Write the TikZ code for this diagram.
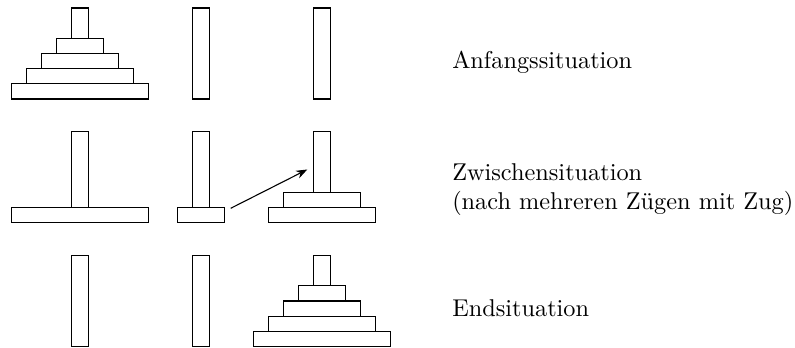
\documentclass[tikz,border=0pt]{standalone}
\usepackage{fontspec}
\usetikzlibrary{arrows.meta}

% a peg: centre x, base y (y grows downwards)
\newcommand\hanoipeg[2]{%
  \draw[part] ({#1-8.35},#2) rectangle ({#1+8.35},{#2-91});}
% a disk: centre x, base y, level (0 = lowest), size (1 = smallest)
\newcommand\hanoidisk[4]{%
  \draw[part] ({#1-8.35-15*#4},{#2-15.2*#3}) rectangle ({#1+8.35+15*#4},{#2-15.2*(#3+1)});}

\begin{document}
\begin{tikzpicture}[x=0.4115pt,y=-0.4115pt,line width=0.45pt,
  part/.style={draw=black,fill=white},
  caption/.style={anchor=base west,inner sep=0pt}]
\useasboundingbox (0,0) rectangle (795,347.4);

\def\pa{80}\def\pb{200.8}\def\pc{321.7}
\def\ra{99}\def\rb{222.7}\def\rc{346.6}

% start: all disks on the first peg
\foreach \p in {\pa,\pb,\pc} {\hanoipeg{\p}{\ra}}
\foreach \s [count=\l from 0] in {4,3,2,1} {\hanoidisk{\pa}{\ra}{\l}{\s}}

% some moves later
\foreach \p in {\pa,\pb,\pc} {\hanoipeg{\p}{\rb}}
\hanoidisk{\pa}{\rb}{0}{4}
\hanoidisk{\pb}{\rb}{0}{1}
\hanoidisk{\pc}{\rb}{0}{3}
\hanoidisk{\pc}{\rb}{1}{2}

% end: all disks on the third peg
\foreach \p in {\pa,\pb,\pc} {\hanoipeg{\p}{\rc}}
\foreach \s [count=\l from 0] in {4,3,2,1} {\hanoidisk{\pc}{\rc}{\l}{\s}}

% next move
\coordinate (mvfrom) at (230.7,208.3);
\coordinate (mvto) at (307.3,169.5);
\draw[-{Stealth[length=4.6pt,width=3.4pt]}] (mvfrom) -- (mvto);

% captions
\node[caption] (capA) at (451.7,68.5) {Anfangssituation};
\node[caption] (capB) at (451.7,181) {Zwischensituation};
\node[caption] (capC) at (451.7,210) {(nach mehreren Zügen mit Zug)};
\node[caption] (capD) at (451.7,316.7) {Endsituation};
\end{tikzpicture}
\end{document}
